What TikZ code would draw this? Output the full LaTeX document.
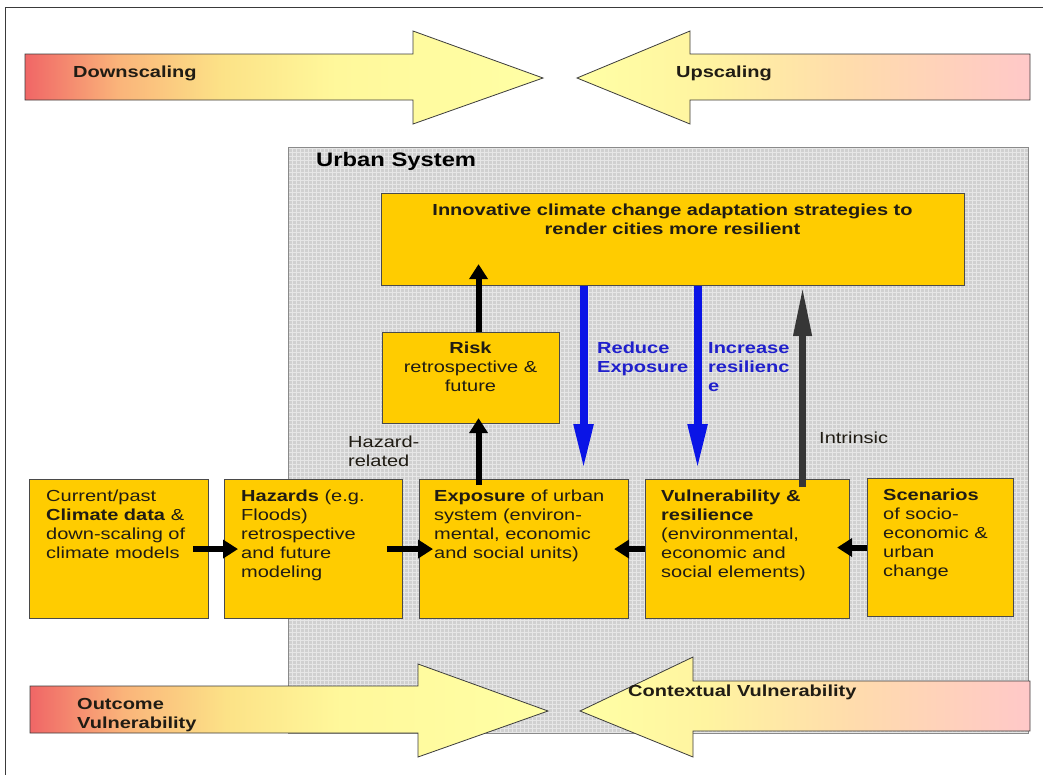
\documentclass[tikz,border=0pt]{standalone}
\usepackage{fontspec}
\setmainfont{Liberation Sans}
\usetikzlibrary{arrows.meta}

\definecolor{boxfill}{HTML}{FFCC00}
\definecolor{boxline}{HTML}{4A4A4A}
\definecolor{txtc}{HTML}{201C14}
\definecolor{panel}{HTML}{D0D0D0}
\definecolor{panelgrid}{HTML}{E6E6E6}
\definecolor{panelline}{HTML}{8A8A8A}
\definecolor{blueflow}{HTML}{0A14E6}
\definecolor{bluetext}{HTML}{2020CC}
\definecolor{darkflow}{HTML}{363636}
\definecolor{frameline}{HTML}{3A3A3A}
\definecolor{arrowline}{HTML}{3C3C3C}

% gradient colours of the four big arrows
\definecolor{warmA}{RGB}{240,102,102}
\definecolor{warmB}{RGB}{250,180,122}
\definecolor{warmC}{RGB}{252,226,135}
\definecolor{warmD}{RGB}{255,248,155}
\definecolor{warmE}{RGB}{255,255,165}
\definecolor{pinkA}{RGB}{255,200,200}
\definecolor{pinkB}{RGB}{255,220,172}
\definecolor{pinkC}{RGB}{255,244,160}

\pgfdeclarehorizontalshading{inward}{100bp}{color(0bp)=(warmA); color(25bp)=(warmA);
  color(34bp)=(warmB); color(44bp)=(warmC); color(55bp)=(warmD); color(75bp)=(warmE); color(100bp)=(warmE)}
\pgfdeclarehorizontalshading{outward}{100bp}{color(0bp)=(warmE); color(25bp)=(warmE);
  color(39bp)=(pinkC); color(55bp)=(pinkB); color(75bp)=(pinkA); color(100bp)=(pinkA)}

% horizontally widened text block
\newcommand\wide[3][1.25]{\scalebox{#1}[1]{\begin{tabular}[t]{@{}#2@{}}#3\end{tabular}}}

\tikzset{
  box/.style={draw=boxline, line width=1.1pt, fill=boxfill, anchor=north west, inner sep=0pt},
  txt/.style={inner sep=0pt, text=txtc, font=\fontsize{16}{19}\selectfont},
  bigarrow/.style={draw=arrowline, line width=0.8pt, line join=miter},
  flowblack/.style={line width=6pt, draw=black, -{Triangle[length=15pt,width=18pt]}},
  flowblue/.style={line width=8pt, draw=blueflow, -{Triangle[length=46pt,width=18pt]}},
  flowdark/.style={line width=7pt, draw=darkflow, -{Triangle[length=50pt,width=17pt]}},
}

\begin{document}
\begin{tikzpicture}[x=1pt, y=-1pt]
\useasboundingbox (0,0) rectangle (1043,774);
\fill[white] (0,0) rectangle (1043,774);

% page frame
\draw[frameline, line width=1pt] (5,790) -- (5,7) -- (1050,7);

% urban system panel with its fine grid
\node[fill=panel, draw=panelline, line width=0.9pt, anchor=north west, inner sep=0pt,
      minimum width=740pt, minimum height=586pt] (urban) at (288,147) {};
\begin{scope}
  \clip (urban.south west) rectangle (urban.north east);
  \draw[panelgrid, line width=0.5pt, step=4pt] (urban.south west) grid (urban.north east);
\end{scope}
\draw[panelline, line width=0.9pt] (urban.south west) rectangle (urban.north east);
\node[txt, anchor=base west, font=\fontsize{19.5}{22}\selectfont\bfseries, text=black] (urbanlbl) at (316,166)
  {\wide[1.22]{l}{Urban System}};

% top scaling arrows
\path[bigarrow, shading=inward] (25,54) -- (413,54) -- (413,31) -- (543,78) -- (413,124) -- (413,100) -- (25,100) -- cycle;
\path[bigarrow, shading=outward] (1030,54) -- (690,54) -- (690,31) -- (577,78) -- (690,124) -- (690,100) -- (1030,100) -- cycle;
\node[txt, anchor=base west, font=\fontsize{16}{19}\selectfont\bfseries] (down) at (73,77) {\wide{l}{Downscaling}};
\node[txt, anchor=base west, font=\fontsize{16}{19}\selectfont\bfseries] (up) at (676,77) {\wide{l}{Upscaling}};

% boxes
\node[box, minimum width=583pt, minimum height=92pt] (innov) at (381,193) {};
\node[box, minimum width=177pt, minimum height=91pt] (risk) at (382,332) {};
\node[box, minimum width=179pt, minimum height=139pt] (climate) at (29,479) {};
\node[box, minimum width=178pt, minimum height=139pt] (hazards) at (224,479) {};
\node[box, minimum width=209pt, minimum height=139pt] (exposure) at (419,479) {};
\node[box, minimum width=204pt, minimum height=139pt] (vuln) at (645,479) {};
\node[box, minimum width=146pt, minimum height=138pt] (scen) at (867,478) {};

% box texts
\node[txt, anchor=base, font=\fontsize{16}{19}\selectfont\bfseries] (innovtxt) at (672.5,215)
  {\wide{c}{Innovative climate change adaptation strategies to\\render cities more resilient}};
\node[txt, anchor=base] (risktxt) at (470.5,353)
  {\wide{c}{\textbf{Risk}\\retrospective \&\\future}};
\node[txt, anchor=base west] (climatetxt) at (46,501)
  {\wide{l}{Current/past\\\textbf{Climate data} \&\\down-scaling of\\climate models}};
\node[txt, anchor=base west] (hazardstxt) at (241,501)
  {\wide{l}{\textbf{Hazards} (e.g.\\Floods)\\retrospective\\and future\\modeling}};
\node[txt, anchor=base west] (exposuretxt) at (434,501)
  {\wide{l}{\textbf{Exposure} of urban\\system (environ-\\mental, economic\\and social units)}};
\node[txt, anchor=base west] (vulntxt) at (661,501)
  {\wide{l}{\textbf{Vulnerability \&}\\\textbf{resilience}\\(environmental,\\economic and\\social elements)}};
\node[txt, anchor=base west] (scentxt) at (883,500)
  {\wide{l}{\textbf{Scenarios}\\of socio-\\economic \&\\urban\\change}};

% flow labels
\node[txt, anchor=base west] (hazrel) at (348,447) {\wide{l}{Hazard-\\related}};
\node[txt, anchor=base west, text=bluetext, font=\fontsize{16}{19.5}\selectfont\bfseries] (reduce) at (597,353)
  {\wide{l}{Reduce\\Exposure}};
\node[txt, anchor=base west, text=bluetext, font=\fontsize{16}{19}\selectfont\bfseries] (increase) at (708,353)
  {\wide{l}{Increase\\resilienc\\e}};
\node[txt, anchor=base west] (intrinsic) at (819,443) {\wide{l}{Intrinsic}};

% connectors
\draw[flowblack] ([xshift=-16pt]climate.east) -- ([xshift=14pt]hazards.west);
\draw[flowblack] ([xshift=-16pt]hazards.east) -- ([xshift=14pt]exposure.west);
\draw[flowblack] (vuln.west) -- ([xshift=-15pt]exposure.east);
\draw[flowblack] (scen.west) -- ([xshift=-13pt]vuln.east |- scen.west);
\draw[flowblack] ([xshift=-45.5pt,yshift=-6pt]exposure.north) -- ([xshift=7.5pt,yshift=6pt]risk.south);
\draw[flowblack] ([xshift=7.5pt]risk.north) -- ([xshift=7.5pt,yshift=22pt]risk.north |- innov.south);
\draw[flowblue] ([xshift=-89.5pt]innov.south) -- ([xshift=-89.5pt,yshift=9pt]innov.south |- exposure.north);
\draw[flowblue] ([xshift=24.5pt]innov.south) -- ([xshift=24.5pt,yshift=9pt]innov.south |- vuln.north);
\draw[flowdark] ([xshift=55pt,yshift=-8pt]vuln.north) -- ([xshift=55pt]vuln.north |- innov.south);

% bottom vulnerability arrows
\path[bigarrow, shading=inward] (30,686) -- (418,686) -- (418,664) -- (548,711) -- (418,757) -- (418,733) -- (30,733) -- cycle;
\path[bigarrow, shading=outward] (1030,681) -- (693,681) -- (693,657) -- (580,711) -- (693,757) -- (693,731) -- (1030,731) -- cycle;
\node[txt, anchor=base west, font=\fontsize{16}{19}\selectfont\bfseries] (outcome) at (77,709)
  {\wide{l}{Outcome\\Vulnerability}};
\node[txt, anchor=base west, font=\fontsize{16}{19}\selectfont\bfseries] (context) at (628,696)
  {\wide{l}{Contextual Vulnerability}};
\end{tikzpicture}
\end{document}
